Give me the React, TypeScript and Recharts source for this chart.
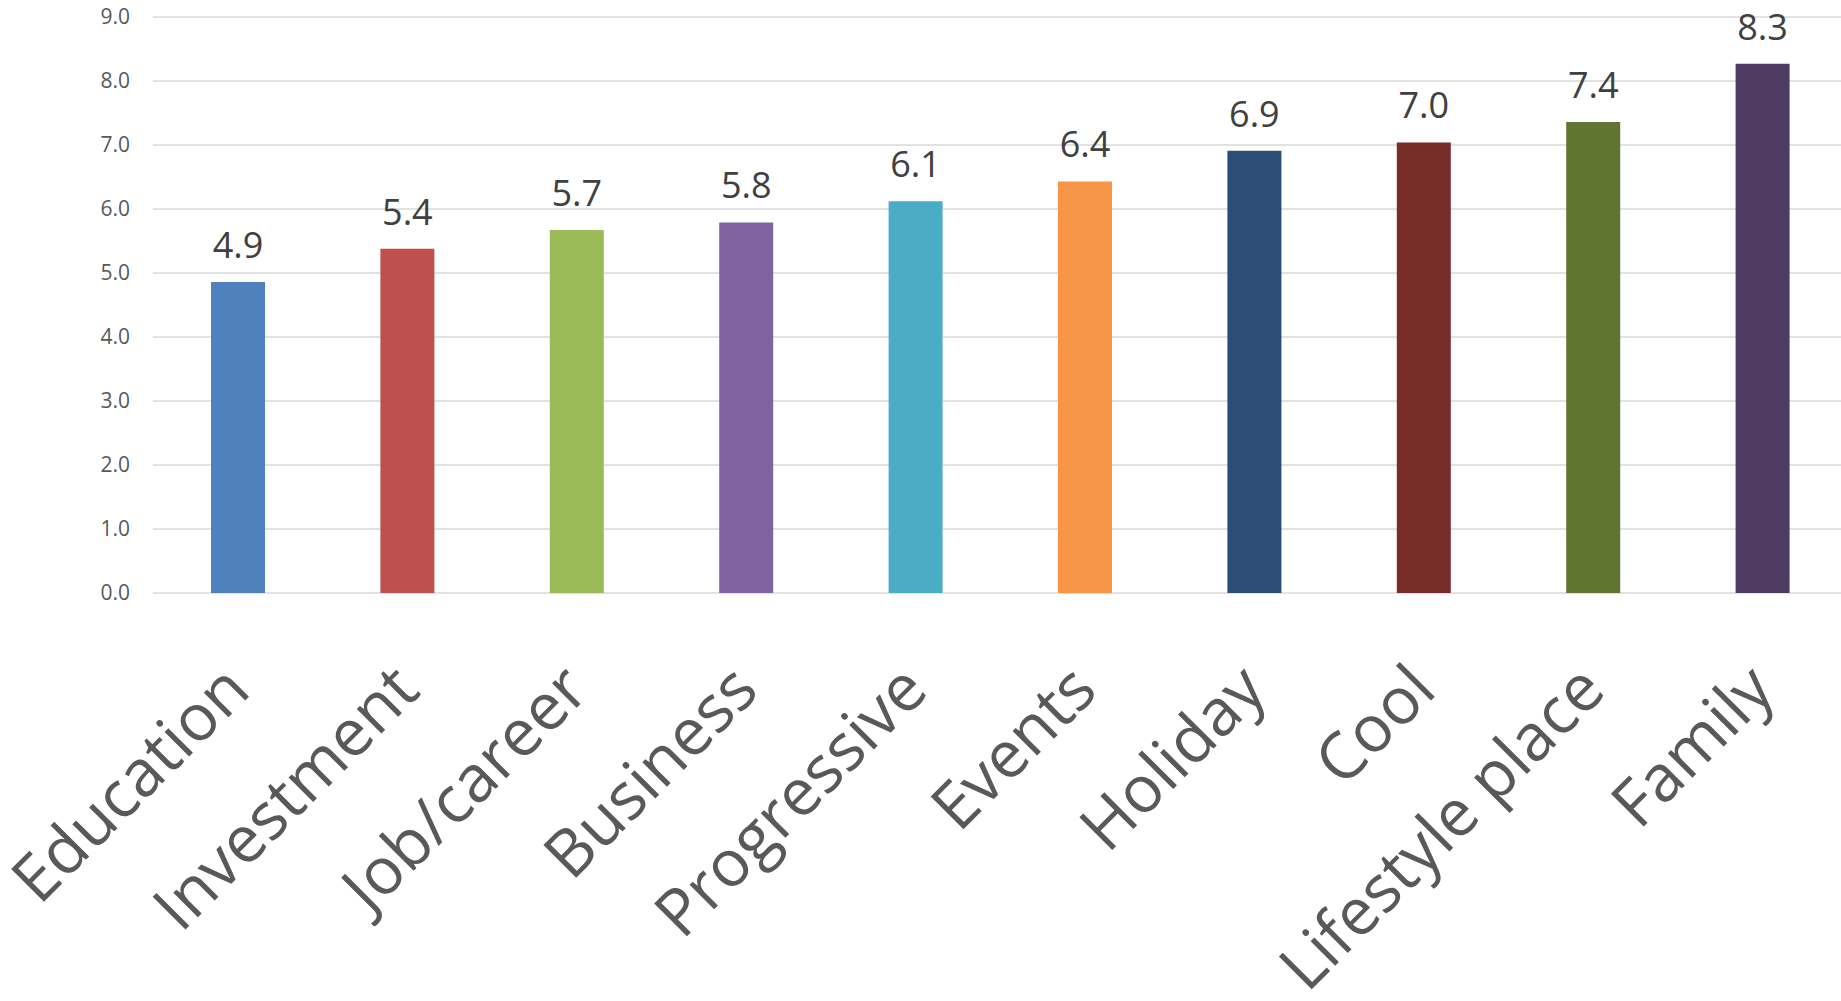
import React from 'react';
import { BarChart, Bar, XAxis, YAxis, CartesianGrid, Cell, LabelList } from 'recharts';

// Categories, average scores and bar colours
const categories = [
  'Education',
  'Investment',
  'Job/career',
  'Business',
  'Progressive',
  'Events',
  'Holiday',
  'Cool',
  'Lifestyle place',
  'Family',
];
const scores = [4.86, 5.38, 5.67, 5.79, 6.12, 6.43, 6.91, 7.04, 7.36, 8.27];
const barColors = [
  '#4F81BD',
  '#C0504D',
  '#9BBB59',
  '#8064A2',
  '#4BACC6',
  '#F79646',
  '#2C4D75',
  '#772C2A',
  '#5F7530',
  '#4D3B62',
];
const yTicks = [0, 1, 2, 3, 4, 5, 6, 7, 8, 9];

const data = categories.map((name, i) => ({ name, value: scores[i] }));

const FONT = '"Open Sans", "Noto Sans", sans-serif';

// Slanted category labels under the axis
const CategoryTick = (props: any) => {
  const { x, y, payload } = props;
  const ax = x + 15;
  const ay = y + 100;
  return (
    <text
      x={ax}
      y={ay}
      transform={`rotate(-45, ${ax}, ${ay})`}
      textAnchor="end"
      fill="#595959"
      fontSize={65}
      fontFamily={FONT}
    >
      {payload.value}
    </text>
  );
};

// Score printed above each bar
const ValueLabel = (props: any) => {
  const { x, y, width, value } = props;
  return (
    <text
      x={x + width / 2}
      y={y - 24}
      textAnchor="middle"
      fill="#404040"
      fontSize={36}
      fontFamily={FONT}
    >
      {Number(value).toFixed(1)}
    </text>
  );
};

export default function App() {
  return (
    <div style={{ position: 'absolute', left: 0, top: 0, width: 1841, height: 1001, overflow: 'hidden', background: '#fff' }}>
      <BarChart
        width={1848}
        height={1001}
        data={data}
        margin={{ top: 17, right: 1, bottom: 0, left: 0 }}
      >
        <CartesianGrid vertical={false} stroke="#D9D9D9" strokeWidth={1.3} />
        <XAxis
          dataKey="name"
          axisLine={false}
          tickLine={false}
          tickSize={0}
          tickMargin={0}
          height={408}
          interval={0}
          tick={<CategoryTick />}
        />
        <YAxis
          domain={[0, 9]}
          ticks={yTicks}
          axisLine={false}
          tickLine={false}
          width={153}
          tickMargin={17}
          tickFormatter={(v: number) => v.toFixed(1)}
          tick={{ fill: '#595959', fontSize: 21, fontFamily: FONT }}
        />
        <Bar dataKey="value" barSize={54} isAnimationActive={false}>
          {data.map((entry, index) => (
            <Cell key={`cell-${index}`} fill={barColors[index]} />
          ))}
          <LabelList dataKey="value" content={<ValueLabel />} />
        </Bar>
      </BarChart>
    </div>
  );
}
